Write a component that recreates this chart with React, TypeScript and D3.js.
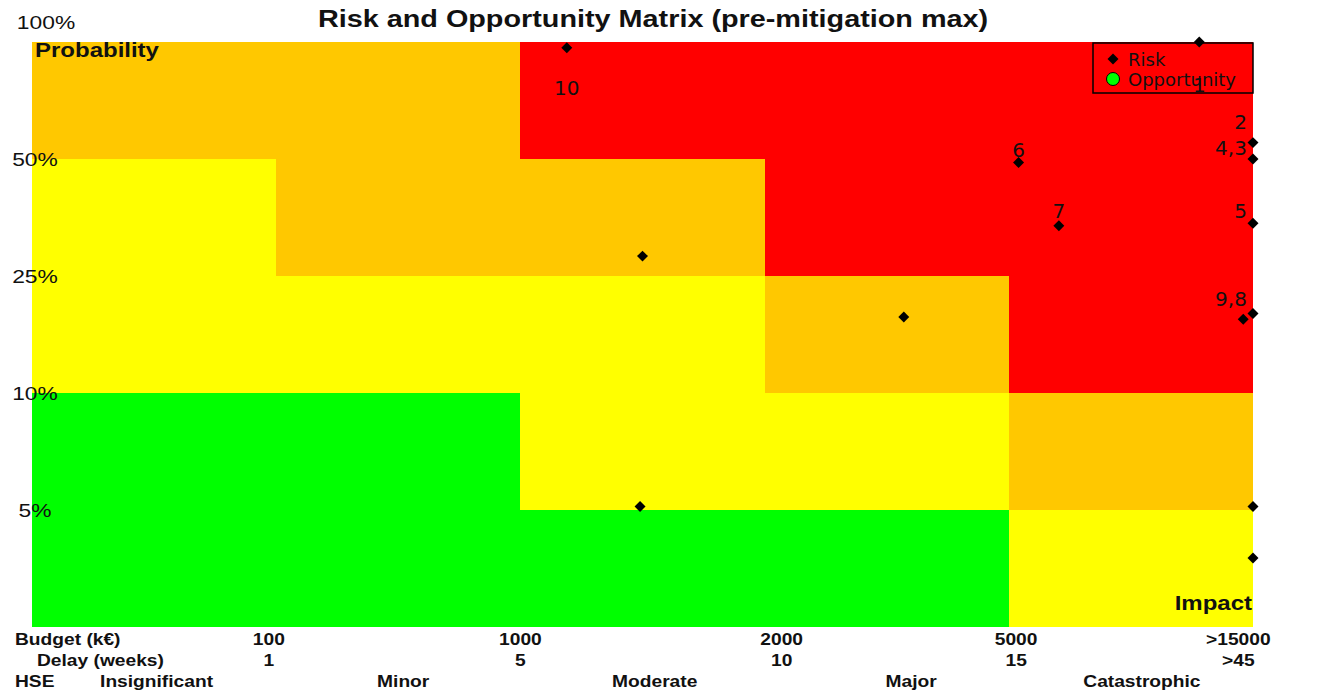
import React, { useEffect, useRef } from 'react';
import * as d3 from 'd3';

// risk matrix cells, top row = highest probability
const matrixRows = [
  ['O', 'O', 'R', 'R', 'R'],
  ['Y', 'O', 'O', 'R', 'R'],
  ['Y', 'Y', 'Y', 'O', 'R'],
  ['G', 'G', 'Y', 'Y', 'O'],
  ['G', 'G', 'G', 'G', 'Y'],
];
const levelColors: Record<string, string> = { G: '#00ff00', Y: '#ffff00', O: '#ffc800', R: '#ff0000' };

const probTicks = ['100%', '50%', '25%', '10%', '5%'];
const probTickAt = [5, 4, 3, 2, 1];

const budgetTicks = ['100', '1000', '2000', '5000', '>15000'];
const delayTicks = ['1', '5', '10', '15', '>45'];
const costTickAt = [0.97, 2.0, 3.07, 4.03, 4.94];

const hseLevels = ['Insignificant', 'Minor', 'Moderate', 'Major', 'Catastrophic'];
const hseAt = [0.51, 1.52, 2.55, 3.6, 4.545];

// risks (impact units 0-5, probability units 0-5)
const riskImpact = [2.19, 4.78, 5.0, 5.0, 5.0, 4.04, 4.205, 5.0, 4.96, 2.5, 3.57, 2.49, 5.0, 5.0];
const riskProb = [4.95, 5.0, 4.14, 4.0, 3.45, 3.97, 3.43, 2.68, 2.63, 3.17, 2.65, 1.03, 1.03, 0.59];

// risk id labels
const labelText = ['10', '1', '2', '4,3', '5', '6', '7', '9,8'];
const labelImpact = [2.19, 4.78, 4.975, 4.975, 4.975, 4.04, 4.205, 4.975];
const labelProb = [4.55, 4.57, 4.26, 4.03, 3.5, 4.02, 3.5, 2.74];
const labelAnchor = ['middle', 'middle', 'end', 'end', 'end', 'middle', 'middle', 'end'];

const W = 1328;
const H = 693;
const SANS = '"Liberation Sans", Arial, sans-serif';
const DEJA = '"DejaVu Sans", sans-serif';

const App = () => {
  const svgRef = useRef<SVGSVGElement>(null);

  useEffect(() => {
    const svg = d3.select(svgRef.current);
    svg.selectAll('*').remove();

    const x = d3.scaleLinear().domain([0, 5]).range([32, 1253]);
    const y = d3.scaleLinear().domain([0, 5]).range([627, 42]);

    // the source picture is stretched horizontally, so Arial-like text gets scaleX
    const stretched = (g: any, txt: string, px: number, py: number, size: number, bold: boolean, anchor = 'start') =>
      g.append('text')
        .attr('transform', `translate(${px},${py}) scale(1.2,1)`)
        .attr('text-anchor', anchor)
        .attr('font-family', SANS)
        .attr('font-size', size)
        .attr('font-weight', bold ? 'bold' : 'normal')
        .attr('fill', '#111')
        .text(txt);

    // cells
    const cells = matrixRows.flatMap((row, r) => row.map((lvl, c) => ({ r, c, lvl })));
    svg.append('g')
      .selectAll('rect')
      .data(cells)
      .enter()
      .append('rect')
      .attr('x', d => x(d.c))
      .attr('y', d => y(5 - d.r))
      .attr('width', d => x(d.c + 1) - x(d.c))
      .attr('height', d => y(4 - d.r) - y(5 - d.r))
      .attr('fill', d => levelColors[d.lvl])
      .attr('shape-rendering', 'crispEdges');

    // title
    stretched(svg, 'Risk and Opportunity Matrix (pre-mitigation max)', 653, 27, 24, true, 'middle');

    // probability ticks
    probTicks.forEach((t, i) => {
      const v = probTickAt[i];
      if (v === 5) stretched(svg, t, 46, y(v) - 13, 19, false, 'middle');
      else stretched(svg, t, 35, y(v) + 7, 19, false, 'middle');
    });

    stretched(svg, 'Probability', 35, 57, 20, true);
    stretched(svg, 'Impact', 1252, 610, 20, true, 'end');

    // bottom scales
    stretched(svg, 'Budget (k€)', 15, 645, 16, true);
    stretched(svg, 'Delay (weeks)', 37, 666, 16, true);
    stretched(svg, 'HSE', 15, 687, 16, true);
    budgetTicks.forEach((t, i) => stretched(svg, t, x(costTickAt[i]), 645, 16, true, 'middle'));
    delayTicks.forEach((t, i) => stretched(svg, t, x(costTickAt[i]), 666, 16, true, 'middle'));
    hseLevels.forEach((t, i) => stretched(svg, t, x(hseAt[i]), 687, 16, true, 'middle'));

    // legend
    const diamond = d3.symbol().type(d3.symbolSquare).size(60);
    const leg = svg.append('g');
    leg.append('rect')
      .attr('x', 1093).attr('y', 43).attr('width', 160).attr('height', 50)
      .attr('fill', 'none').attr('stroke', '#000').attr('stroke-width', 1.5);
    leg.append('path')
      .attr('d', diamond())
      .attr('transform', 'translate(1113,59) rotate(45)')
      .attr('fill', '#000');
    leg.append('circle')
      .attr('cx', 1113).attr('cy', 79).attr('r', 6.5)
      .attr('fill', '#00ff00').attr('stroke', '#000').attr('stroke-width', 1);
    leg.append('text').attr('x', 1128).attr('y', 66)
      .attr('font-family', DEJA).attr('font-size', 18).attr('fill', '#111').text('Risk');
    leg.append('text').attr('x', 1128).attr('y', 86)
      .attr('font-family', DEJA).attr('font-size', 18).attr('fill', '#111').text('Opportunity');

    // risk markers
    svg.append('g')
      .selectAll('path')
      .data(riskImpact.map((v, i) => [v, riskProb[i]]))
      .enter()
      .append('path')
      .attr('d', diamond())
      .attr('transform', d => `translate(${x(d[0])},${y(d[1])}) rotate(45)`)
      .attr('fill', '#000');

    // labels
    svg.append('g')
      .selectAll('text')
      .data(labelText)
      .enter()
      .append('text')
      .attr('x', (d, i) => x(labelImpact[i]))
      .attr('y', (d, i) => y(labelProb[i]))
      .attr('text-anchor', (d, i) => labelAnchor[i])
      .attr('font-family', DEJA)
      .attr('font-size', 20)
      .attr('fill', '#111')
      .text(d => d);
  }, []);

  return (
    <svg ref={svgRef} width={W} height={H}
      style={{ position: 'absolute', left: 0, top: 0, background: '#fff' }} />
  );
};

export default App;
